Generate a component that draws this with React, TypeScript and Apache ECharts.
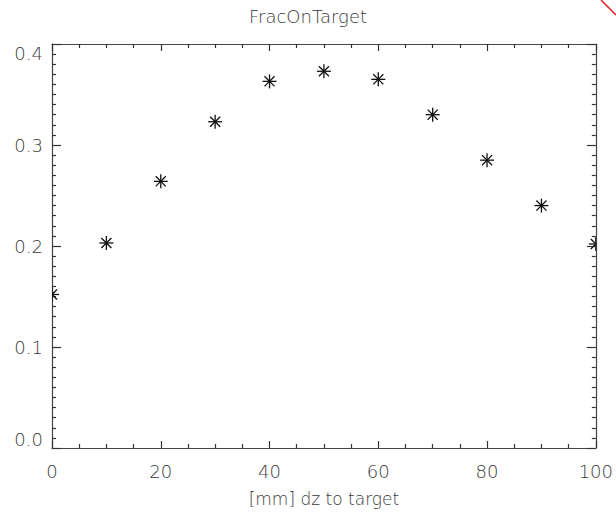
import React, { useEffect, useRef } from "react";
import * as echarts from "echarts";

const dz = [0, 10, 20, 30, 40, 50, 60, 70, 80, 90, 100];
const fracOnTarget = [0.152, 0.203, 0.264, 0.323, 0.363, 0.373, 0.365, 0.330, 0.285, 0.240, 0.202];
const titleText = "FracOnTarget";
const xName = "[mm] dz to target";

const FONT = "DejaVu Sans";
const TXT = "#3a3a3a";
const AX = "#444";

export default function App() {
  const ref = useRef<HTMLDivElement>(null);
  useEffect(() => {
    if (!ref.current) return;
    const chart = echarts.init(ref.current, null, { renderer: "svg" });
    const axisBase = (isX: boolean, show: boolean) => ({
      min: 0,
      max: isX ? 100 : 0.4,
      interval: isX ? 20 : 0.1,
      axisLine: { show: true, onZero: false, lineStyle: { color: AX, width: 1.2 } },
      axisTick: { show: true, inside: true, length: isX ? 7 : 9, lineStyle: { color: "#333", width: 1.2 } },
      minorTick: { show: true, splitNumber: isX ? 4 : 10, length: 4, lineStyle: { color: "#333", width: 1.2 } },
      splitLine: { show: false },
      minorSplitLine: { show: false },
      axisLabel: {
        show,
        color: TXT,
        fontFamily: FONT,
        fontSize: 18,
        fontWeight: 200 as any,
        margin: isX ? 14 : 9,
        verticalAlignMaxLabel: isX ? undefined : "top",
        verticalAlignMinLabel: isX ? undefined : "bottom",
        formatter: isX ? (v: number) => String(v) : (v: number) => v.toFixed(1),
      },
    });
    const data = dz.map((x, i) => [x, fracOnTarget[i]]);
    chart.setOption({
      animation: false,
      backgroundColor: "#fff",
      title: {
        text: titleText,
        left: "center",
        top: 2,
        textStyle: { fontFamily: FONT, fontSize: 18, fontWeight: 200 as any, color: TXT },
      },
      grid: { left: 52, right: 19, top: 44, bottom: 67 },
      xAxis: [
        {
          type: "value",
          position: "bottom",
          ...axisBase(true, true),
          name: xName,
          nameLocation: "middle",
          nameGap: 42,
          nameTextStyle: { fontFamily: FONT, fontSize: 17, fontWeight: 200 as any, color: TXT },
        },
        { type: "value", position: "top", ...axisBase(true, false) },
      ],
      yAxis: [
        { type: "value", position: "left", ...axisBase(false, true) },
        { type: "value", position: "right", ...axisBase(false, false) },
      ],
      series: [
        {
          type: "custom",
          xAxisIndex: 0,
          yAxisIndex: 0,
          clip: true,
          data,
          renderItem: (params: any, api: any) => {
            const p = api.coord([api.value(0), api.value(1)]);
            const r = 7;
            const d = r * 0.72;
            const style = { stroke: "#111", lineWidth: 1.3 };
            return {
              type: "group",
              children: [
                { type: "line", shape: { x1: p[0], y1: p[1] - r, x2: p[0], y2: p[1] + r }, style },
                { type: "line", shape: { x1: p[0] - r, y1: p[1], x2: p[0] + r, y2: p[1] }, style },
                { type: "line", shape: { x1: p[0] - d, y1: p[1] - d, x2: p[0] + d, y2: p[1] + d }, style },
                { type: "line", shape: { x1: p[0] - d, y1: p[1] + d, x2: p[0] + d, y2: p[1] - d }, style },
              ],
            };
          },
        },
      ],
      graphic: [
        {
          type: "line",
          shape: { x1: 601, y1: 0, x2: 616, y2: 15 },
          style: { stroke: "#e02020", lineWidth: 1.5 },
        },
      ],
    });
    return () => chart.dispose();
  }, []);
  return <div ref={ref} style={{ width: 616, height: 515, position: "absolute", left: 0, top: 0 }} />;
}
